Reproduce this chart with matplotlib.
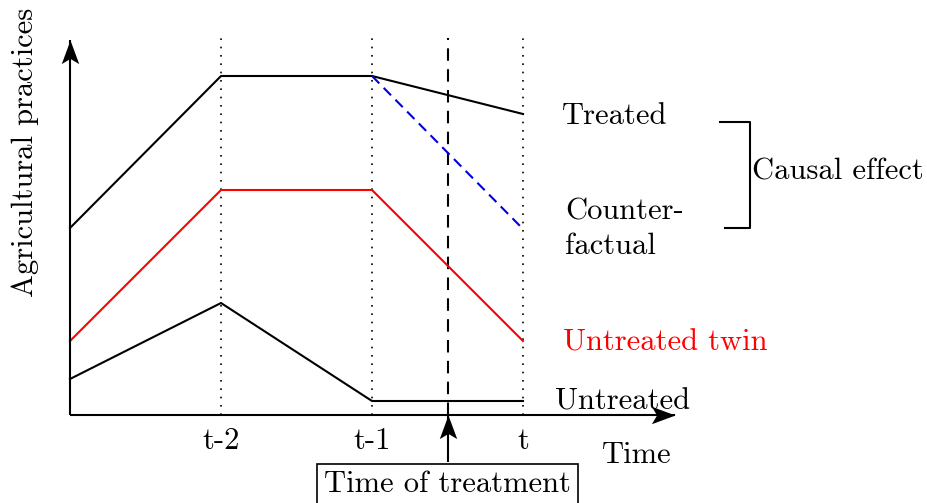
"""Difference-in-differences sketch: treated vs twin vs untreated."""

import matplotlib

matplotlib.use("Agg")
import matplotlib.pyplot as plt
from matplotlib.markers import MarkerStyle
from matplotlib.path import Path
from matplotlib.transforms import Affine2D

plt.rcParams["font.family"] = ["cmr10", "DejaVu Serif"]
plt.rcParams["axes.unicode_minus"] = False

# ---------------------------------------------------------------------------
# Data (x: periods, y: level of agricultural practices, arbitrary units)
# ---------------------------------------------------------------------------
periods = [0, 1, 2, 3]
tick_pos = [1, 2, 3]
tick_labels = ["t-2", "t-1", "t"]
treatment_time = 2.5

treated = [18.7, 33.9, 33.9, 30.1]
counterfactual_x = [2, 3]
counterfactual = [33.9, 18.6]
untreated_twin = [7.4, 22.5, 22.5, 7.4]
untreated = [3.6, 11.2, 1.4, 1.4]

FS = 22

# stealth-like arrow head pointing to +x, tip at origin
STEALTH = Path([(0, 0), (-1, 0.37), (-0.78, 0), (-1, -0.37), (0, 0)],
               [Path.MOVETO, Path.LINETO, Path.LINETO, Path.LINETO,
                Path.CLOSEPOLY])


def arrow_line(ax, x0, y0, x1, y1, angle):
    ax.plot([x0, x1], [y0, y1], color="black", lw=1.5, solid_capstyle="butt")
    m = MarkerStyle(STEALTH, transform=Affine2D().rotate_deg(angle))
    ax.plot([x1], [y1], marker=m, ms=34, color="black", mew=0)


fig = plt.figure(figsize=(9.27, 5.03), dpi=100)
ax = fig.add_axes([0, 0, 1, 1])
# 151 px per period, 10 px per y unit, origin at pixel (70, 415)
ax.set_xlim(-70 / 151, (927 - 70) / 151)
ax.set_ylim(-(503 - 415) / 10, 415 / 10)
ax.axis("off")

top = 37.7
for xp, lab in zip(tick_pos, tick_labels):
    ax.plot([xp, xp], [0, top], color="black", lw=1.2, ls=(0, (1, 4)))
    ax.text(xp, -1.3, lab, ha="center", va="top", fontsize=FS)
ax.plot([treatment_time, treatment_time], [0, top], color="black", lw=1.5,
        ls=(0, (6, 4)))

ax.plot(periods, treated, color="black", lw=1.5)
ax.plot(counterfactual_x, counterfactual, color="#0000dd", lw=1.5,
        ls=(0, (5, 3)))
ax.plot(periods, untreated_twin, color="red", lw=1.5)
ax.plot(periods, untreated, color="black", lw=1.5)

# axes with arrow heads
arrow_line(ax, 0, 0, 0, 37.5, 90)
arrow_line(ax, 0, 0, 605 / 151, 0, 0)
arrow_line(ax, treatment_time, -4.7, treatment_time, 0, 90)

# labels
ax.text(-45 / 151, 26.3, "Agricultural practices", rotation=90, ha="center",
        va="center", fontsize=FS)
ax.text(532 / 151, -4.0, "Time", ha="left", va="center", fontsize=FS)
ax.text(treatment_time, -6.95, "Time of treatment", ha="center",
        va="center", fontsize=FS,
        bbox=dict(boxstyle="square,pad=0.22", fc="white", ec="black",
                  lw=1.2))

ax.text(492 / 151, 29.9, "Treated", ha="left", va="center", fontsize=FS)
ax.text(495 / 151, 18.6, "Counter-\nfactual", ha="left", va="center",
        fontsize=FS, linespacing=1.35)
ax.text(493 / 151, 7.2, "Untreated twin", ha="left", va="center",
        fontsize=FS, color="red")
ax.text(485 / 151, 1.3, "Untreated", ha="left", va="center", fontsize=FS)

# bracket for causal effect
ax.plot([650 / 151, 680 / 151, 680 / 151, 655 / 151],
        [29.3, 29.3, 18.7, 18.7], color="black", lw=1.5)
ax.text(682 / 151, 24.3, "Causal effect", ha="left", va="center", fontsize=FS)

fig.savefig("out.png", dpi=100)
plt.close(fig)
